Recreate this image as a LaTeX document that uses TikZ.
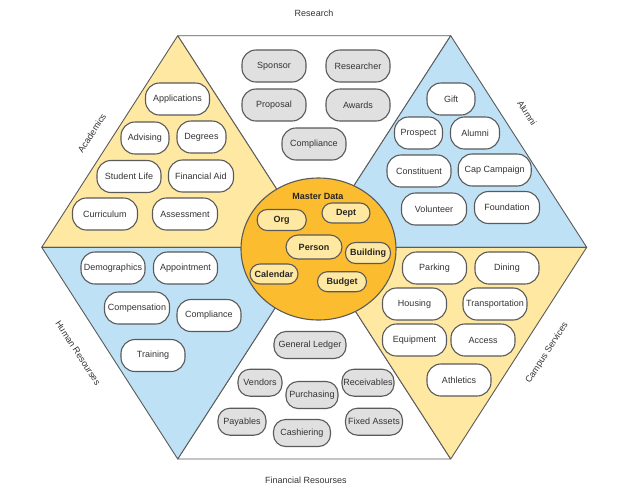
\documentclass[tikz,border=0pt]{standalone}
\usepackage{fontspec}
\setmainfont{Liberation Sans}
\usetikzlibrary{shapes.geometric}

\definecolor{paleyellow}{HTML}{FFE8A1}
\definecolor{paleblue}{HTML}{BEE1F6}
\definecolor{masterorange}{HTML}{FBBC30}
\definecolor{pillgray}{HTML}{E0E0E0}
\definecolor{edgegray}{HTML}{5A5A5A}
\definecolor{textgray}{HTML}{333333}

\tikzset{
  pill/.style={draw=edgegray, line width=1.1pt, rounded corners=14pt, fill=white,
    minimum width=64pt, minimum height=32pt, inner sep=1pt,
    font=\fontsize{9}{10}\selectfont, text=textgray},
  graypill/.style={pill, fill=pillgray},
  finpill/.style={graypill, minimum height=27pt, rounded corners=12pt},
  masterpill/.style={pill, fill=paleyellow, rounded corners=10pt, minimum width=48pt,
    minimum height=20pt, font=\fontsize{9}{10}\selectfont\bfseries, text=black!85},
  side/.style={font=\fontsize{9}{10}\selectfont, text=textgray},
  wedge/.style={draw=edgegray, line width=0.9pt, line join=round},
}

\begin{document}
\begin{tikzpicture}[x=1pt, y=-1pt]
\useasboundingbox (0,0) rectangle (624,499);

% hexagon corners
\coordinate (L) at (41.7,247.3);
\coordinate (TL) at (177.7,35.7);
\coordinate (TR) at (450.7,35.7);
\coordinate (R) at (586.7,247.3);
\coordinate (BR) at (450.7,459);
\coordinate (BL) at (177.7,459);
\coordinate (C) at (314.2,247.3);

% six wedges
\draw[wedge, fill=white] (TL)--(TR)--(C)--cycle;
\draw[wedge, fill=white] (BL)--(BR)--(C)--cycle;
\draw[wedge, fill=paleyellow] (TL)--(L)--(C)--cycle;
\draw[wedge, fill=paleblue] (TR)--(R)--(C)--cycle;
\draw[wedge, fill=paleblue] (L)--(BL)--(C)--cycle;
\draw[wedge, fill=paleyellow] (R)--(BR)--(C)--cycle;

% section names
\node[side] (research) at (314,13) {Research};
\node[side] (financial) at (306,480) {Financial Resourses};
\node[side, rotate=57] (academics) at (92,133) {Academics};
\node[side, rotate=-57] (alumnilbl) at (527,113) {Alumni};
\node[side, rotate=-57] (hr) at (78,353) {Human Resourses};
\node[side, rotate=57] (campus) at (547,353) {Campus Services};

% research
\node[graypill] (sponsor) at (274,66) {Sponsor};
\node[graypill] (researcher) at (358,66) {Researcher};
\node[graypill] (proposal) at (274,105) {Proposal};
\node[graypill] (awards) at (358,105) {Awards};
\node[graypill] (rcompliance) at (314,144) {Compliance};

% academics
\node[pill] (applications) at (177.5,99) {Applications};
\node[pill, minimum width=48pt] (advising) at (145,138) {Advising};
\node[pill, minimum width=49pt] (degrees) at (201.5,137) {Degrees};
\node[pill] (studentlife) at (129,176.5) {Student Life};
\node[pill, minimum width=65pt] (finaid) at (201,176) {Financial Aid};
\node[pill, minimum width=65pt] (curriculum) at (105,214) {Curriculum};
\node[pill, minimum width=65pt] (assessment) at (185,214) {Assessment};

% alumni
\node[pill, minimum width=48pt] (gift) at (451,99) {Gift};
\node[pill, minimum width=48pt] (prospect) at (418.5,133) {Prospect};
\node[pill, minimum width=49pt] (alumni) at (475,133) {Alumni};
\node[pill] (constituent) at (419,171) {Constituent};
\node[pill, minimum width=73pt] (capcampaign) at (494.7,170) {Cap Campaign};
\node[pill, minimum width=65pt] (volunteer) at (434,209) {Volunteer};
\node[pill, minimum width=65pt] (foundation) at (507,207.5) {Foundation};

% human resources
\node[pill] (demographics) at (113,268) {Demographics};
\node[pill] (appointment) at (185.5,268) {Appointment};
\node[pill, minimum width=65pt] (compensation) at (137,308) {Compensation};
\node[pill] (hrcompliance) at (209,315.5) {Compliance};
\node[pill] (training) at (153,355.5) {Training};

% campus services
\node[pill] (parking) at (434.5,268) {Parking};
\node[pill] (dining) at (507,268) {Dining};
\node[pill] (housing) at (414.5,304) {Housing};
\node[pill] (transportation) at (495,304) {Transportation};
\node[pill] (equipment) at (414.5,340) {Equipment};
\node[pill] (access) at (483,340) {Access};
\node[pill] (athletics) at (459,380) {Athletics};

% financial resources
\node[finpill, minimum width=72pt] (ledger) at (310,345) {General Ledger};
\node[finpill, minimum width=44pt] (vendors) at (260,382.7) {Vendors};
\node[finpill, minimum width=52pt] (purchasing) at (312,395) {Purchasing};
\node[finpill, minimum width=52pt] (receivables) at (368,382.7) {Receivables};
\node[finpill, minimum width=48pt] (payables) at (242,421.7) {Payables};
\node[finpill, minimum width=57pt] (cashiering) at (302,433) {Cashiering};
\node[finpill, minimum width=57pt] (fixedassets) at (374,421.7) {Fixed Assets};

% master data
\draw[draw=edgegray, line width=1.1pt, fill=masterorange] (318.5,249) ellipse [x radius=77.5, y radius=71];
\node[font=\fontsize{9}{10}\selectfont\bfseries, text=black!85] (master) at (318,196) {Master Data};
\node[masterpill, minimum width=49pt, minimum height=21pt] (org) at (281.7,220) {Org};
\node[masterpill] (dept) at (346,213) {Dept};
\node[masterpill, minimum width=56pt, minimum height=24pt, rounded corners=12pt] (person) at (314,247) {Person};
\node[masterpill, minimum width=45pt, minimum height=21pt] (building) at (368,253) {Building};
\node[masterpill] (calendar) at (274,274) {Calendar};
\node[masterpill, minimum width=49pt] (budget) at (342,281.7) {Budget};

\end{tikzpicture}
\end{document}
